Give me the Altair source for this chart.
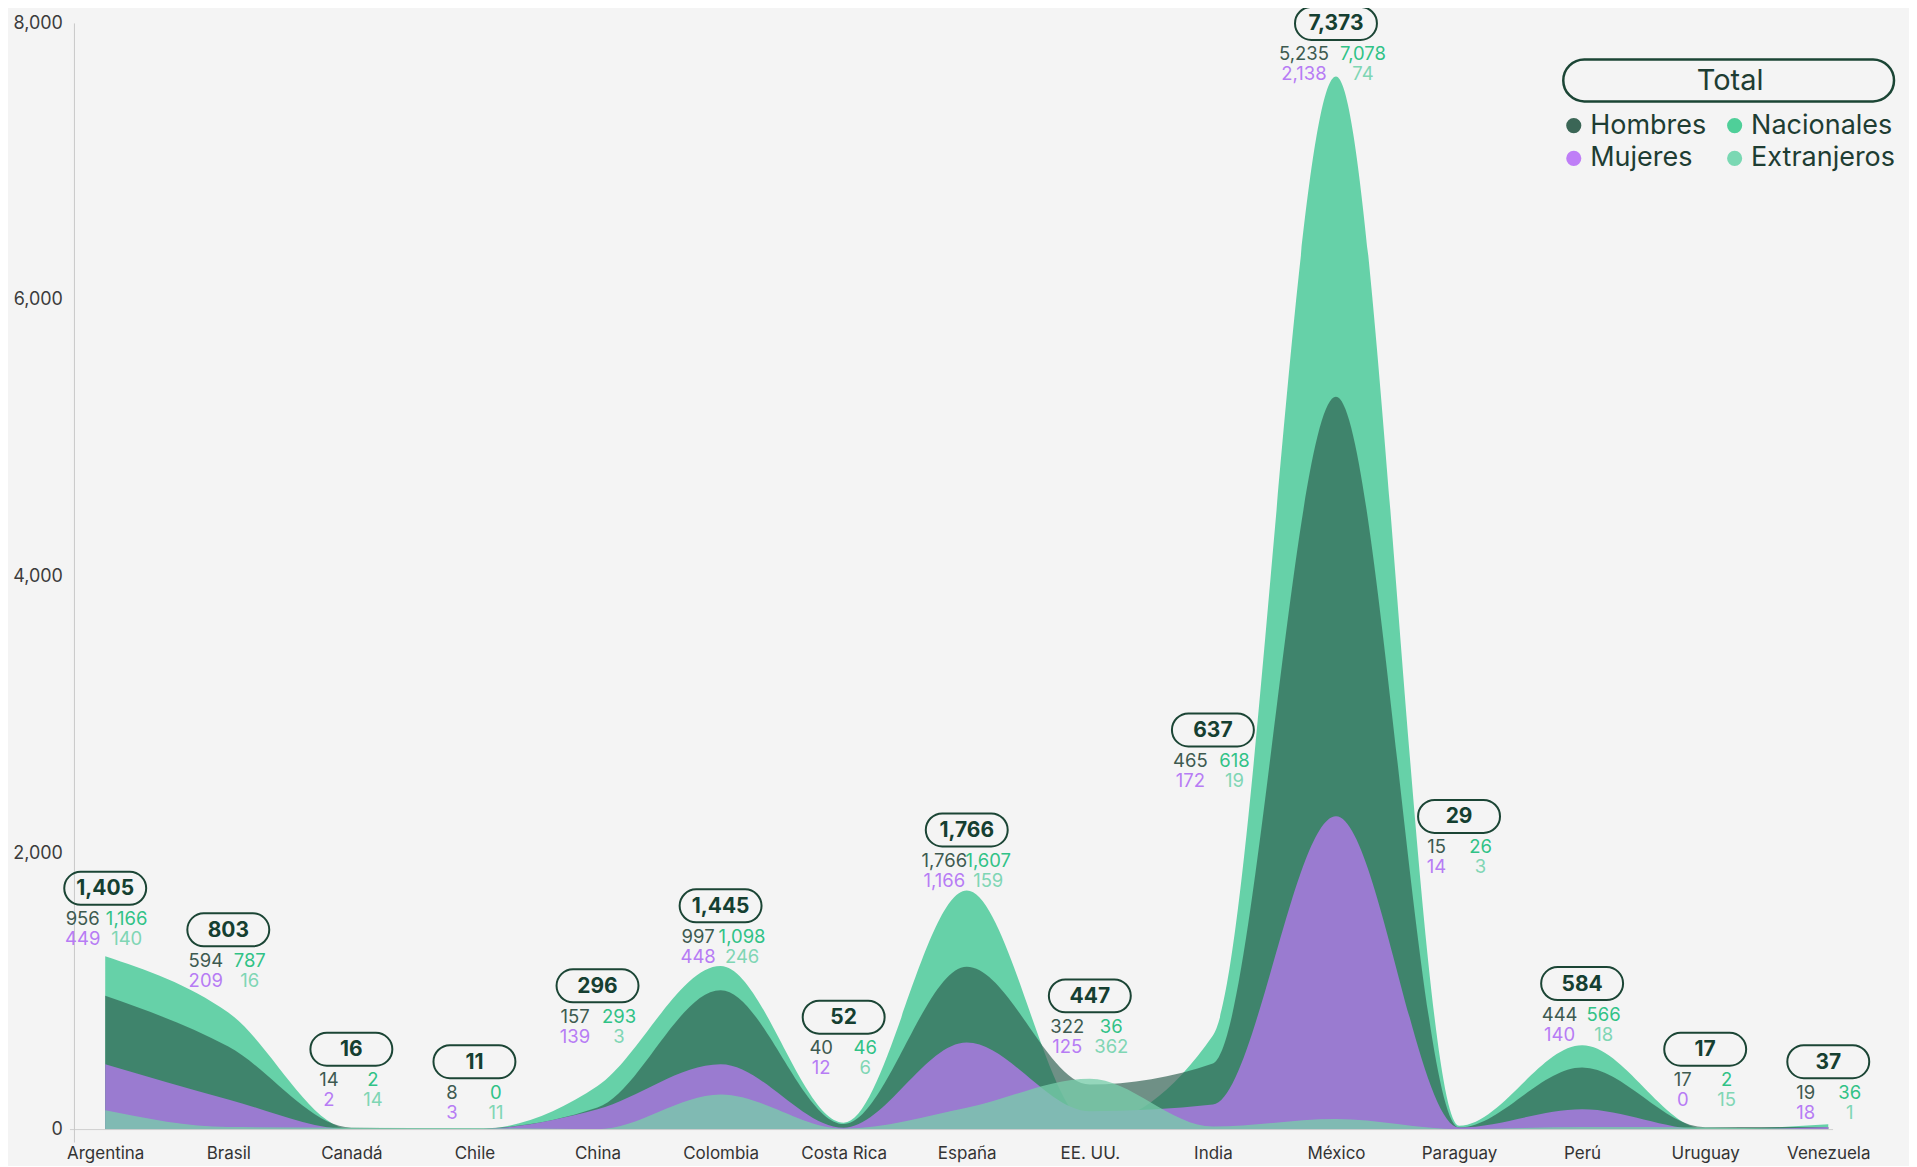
import altair as alt
import pandas as pd

# ---------------- data ----------------
paises = ["Argentina", "Brasil", "Canadá", "Chile", "China", "Colombia", "Costa Rica",
          "España", "EE. UU.", "India", "México", "Paraguay", "Perú", "Uruguay", "Venezuela"]

# numbers printed in the annotations
total = [1405, 803, 16, 11, 296, 1445, 52, 1766, 447, 637, 7373, 29, 584, 17, 37]
hombres = [956, 594, 14, 8, 157, 997, 40, 1766, 322, 465, 5235, 15, 444, 17, 19]
mujeres = [449, 209, 2, 3, 139, 448, 12, 1166, 125, 172, 2138, 14, 140, 0, 18]
nacionales = [1166, 787, 2, 0, 293, 1098, 46, 1607, 36, 618, 7078, 26, 566, 2, 36]
extranjeros = [140, 16, 14, 11, 3, 246, 6, 159, 362, 19, 74, 3, 18, 15, 1]

# heights of the drawn areas, as read against the axis
area_nacionales = [1254, 847, 2, 0, 315, 1183, 50, 1729, 39, 680, 7616, 28, 609, 2, 39]
area_hombres = [967, 600, 14, 8, 159, 1008, 40, 1178, 326, 478, 5300, 15, 449, 17, 19]
area_mujeres = [472, 218, 2, 3, 147, 472, 13, 629, 132, 181, 2266, 15, 147, 0, 19]
area_extranjeros = [140, 18, 14, 11, 3, 254, 6, 157, 368, 22, 76, 3, 18, 15, 1]

# level (axis units) at which each annotation box sits
nivel_etiqueta = [1745, 1445, 581, 491, 1040, 1618, 813, 2167, 967, 2890, 8000, 2265, 1056, 581, 491]

series_leyenda = ["Hombres", "Nacionales", "Mujeres", "Extranjeros"]
colores_leyenda = ["#3b6656", "#4fcf99", "#bf7ef7", "#7ad8b3"]
ticks_y = [0, 2000, 4000, 6000, 8000]

# ---------------- tables ----------------
area_vals = {
    "Nacionales": area_nacionales,
    "Hombres": area_hombres,
    "Mujeres": area_mujeres,
    "Extranjeros": area_extranjeros,
}
area_df = pd.DataFrame(
    [{"pais": p, "serie": s, "valor": v} for s in area_vals for p, v in zip(paises, area_vals[s])]
)
ann_df = pd.DataFrame({
    "pais": paises, "total": total, "h": hombres, "m": mujeres,
    "n": nacionales, "e": extranjeros, "nivel": nivel_etiqueta,
})
leyenda_df = pd.DataFrame({"serie": series_leyenda})
tot_df = pd.DataFrame({"t": ["Total"]})
eje_df = pd.DataFrame({"t": ["eje"]})

FONT = "Inter"
x_scale = alt.Scale(type="point", domain=paises, padding=0.25)
y_scale = alt.Scale(domain=[0, 8000], nice=False)

x_axis = alt.Axis(labelFont=FONT, labelFontSize=17, labelColor="#333333", labelAngle=0,
                  ticks=False, domain=False, labelPadding=16, grid=False)
y_axis = alt.Axis(values=ticks_y, format=",.0f", labelFont=FONT, labelFontSize=18,
                  labelColor="#3c3c3c", ticks=False, domain=False, labelPadding=12, grid=False)

x_enc = alt.X("pais:N", sort=None, title=None, scale=x_scale, axis=x_axis)


def y_enc(field):
    return alt.Y(field, scale=y_scale, title=None, axis=y_axis)


estilos = {
    "Nacionales": ("#66d1a8", 1.0),
    "Hombres": ("#2d5e4f", 0.67),
    "Mujeres": ("#9a7bd0", 1.0),
    "Extranjeros": ("#78cdaa", 0.77),
}

# axis lines (gray baseline and vertical axis)
base_x = alt.Chart(eje_df).mark_rule(color="#cfcfcf", strokeWidth=1).encode(
    x=alt.value(-4.5), x2=alt.value(1760), y=alt.value(1107))
base_y = alt.Chart(eje_df).mark_rule(color="#c8c8c8", strokeWidth=1).encode(
    x=alt.value(0), y=alt.value(0), y2=alt.value(1120))

areas = [
    alt.Chart(area_df)
    .transform_filter(alt.datum.serie == s)
    .mark_area(interpolate="monotone", color=c, opacity=o)
    .encode(x=x_enc, y=y_enc("valor:Q"))
    for s, (c, o) in estilos.items()
]

pill = ("M -0.5976 -0.4024 L 0.5976 -0.4024 A 0.4024 0.4024 0 0 1 0.5976 0.4024 "
        "L -0.5976 0.4024 A 0.4024 0.4024 0 0 1 -0.5976 -0.4024 Z")
cajas = alt.Chart(ann_df).mark_point(
    shape=pill, size=82 * 82, filled=False, color="#1b4535", strokeWidth=2, opacity=1
).encode(x=x_enc, y=y_enc("nivel:Q"))


def numero(field, color, dx, dy, filtro, size=18.5, weight="normal"):
    return alt.Chart(ann_df).transform_filter(filtro).mark_text(
        font=FONT, fontSize=size, fontWeight=weight, color=color,
        dx=dx, dy=dy, baseline="middle", align="center"
    ).encode(x=x_enc, y=y_enc("nivel:Q"), text=alt.Text(field, format=","))


normal = "datum.pais != 'México'"
ancho = "datum.pais == 'México'"
textos = [numero("total:Q", "#153f31", 0, 1, "true", 21, "bold")]
for filtro, dl, dr in [(normal, -22.5, 21.5), (ancho, -32, 27)]:
    textos += [
        numero("h:Q", "#3d5a50", dl, 31, filtro),
        numero("n:Q", "#30c286", dr, 31, filtro),
        numero("m:Q", "#b77cf4", dl, 51, filtro),
        numero("e:Q", "#80d6b4", dr, 51, filtro),
    ]

leyenda = alt.Chart(leyenda_df).transform_filter("false").mark_point(
    filled=True, opacity=1
).encode(
    color=alt.Color(
        "serie:N",
        scale=alt.Scale(domain=series_leyenda, range=colores_leyenda),
        legend=alt.Legend(
            orient="none", legendX=1487, legendY=88.5, columns=2, direction="horizontal",
            title=None, symbolType="circle", symbolSize=230, symbolStrokeWidth=0,
            labelFont=FONT, labelFontSize=27, labelColor="#1e3d33", labelLimit=300,
            labelOffset=3, columnPadding=14, rowPadding=5, padding=0,
        ),
    )
)

pill_total = ("M -0.8731 -0.1269 L 0.8731 -0.1269 A 0.1269 0.1269 0 0 1 0.8731 0.1269 "
              "L -0.8731 0.1269 A 0.1269 0.1269 0 0 1 -0.8731 -0.1269 Z")
tot_box = alt.Chart(tot_df).mark_point(
    shape=pill_total, size=331 * 331, filled=False, color="#1b4535", strokeWidth=2.5, opacity=1
).encode(x=alt.value(1655.5), y=alt.value(57))
tot_text = alt.Chart(tot_df).mark_text(
    font=FONT, fontSize=29, color="#1e3d33", baseline="middle"
).encode(x=alt.value(1657), y=alt.value(58), text="t:N")

chart = alt.layer(
    *areas, base_x, base_y, cajas, *textos, leyenda, tot_box, tot_text
).properties(
    width=1786, height=1107,
    padding={"left": 66.5, "top": 15, "right": 50, "bottom": 36},
    autosize=alt.AutoSizeParams(type="none"),
    background="#f4f4f4",
).configure_view(stroke=None)

chart.save("out.html", embed_options={"renderer": "svg", "actions": False})
